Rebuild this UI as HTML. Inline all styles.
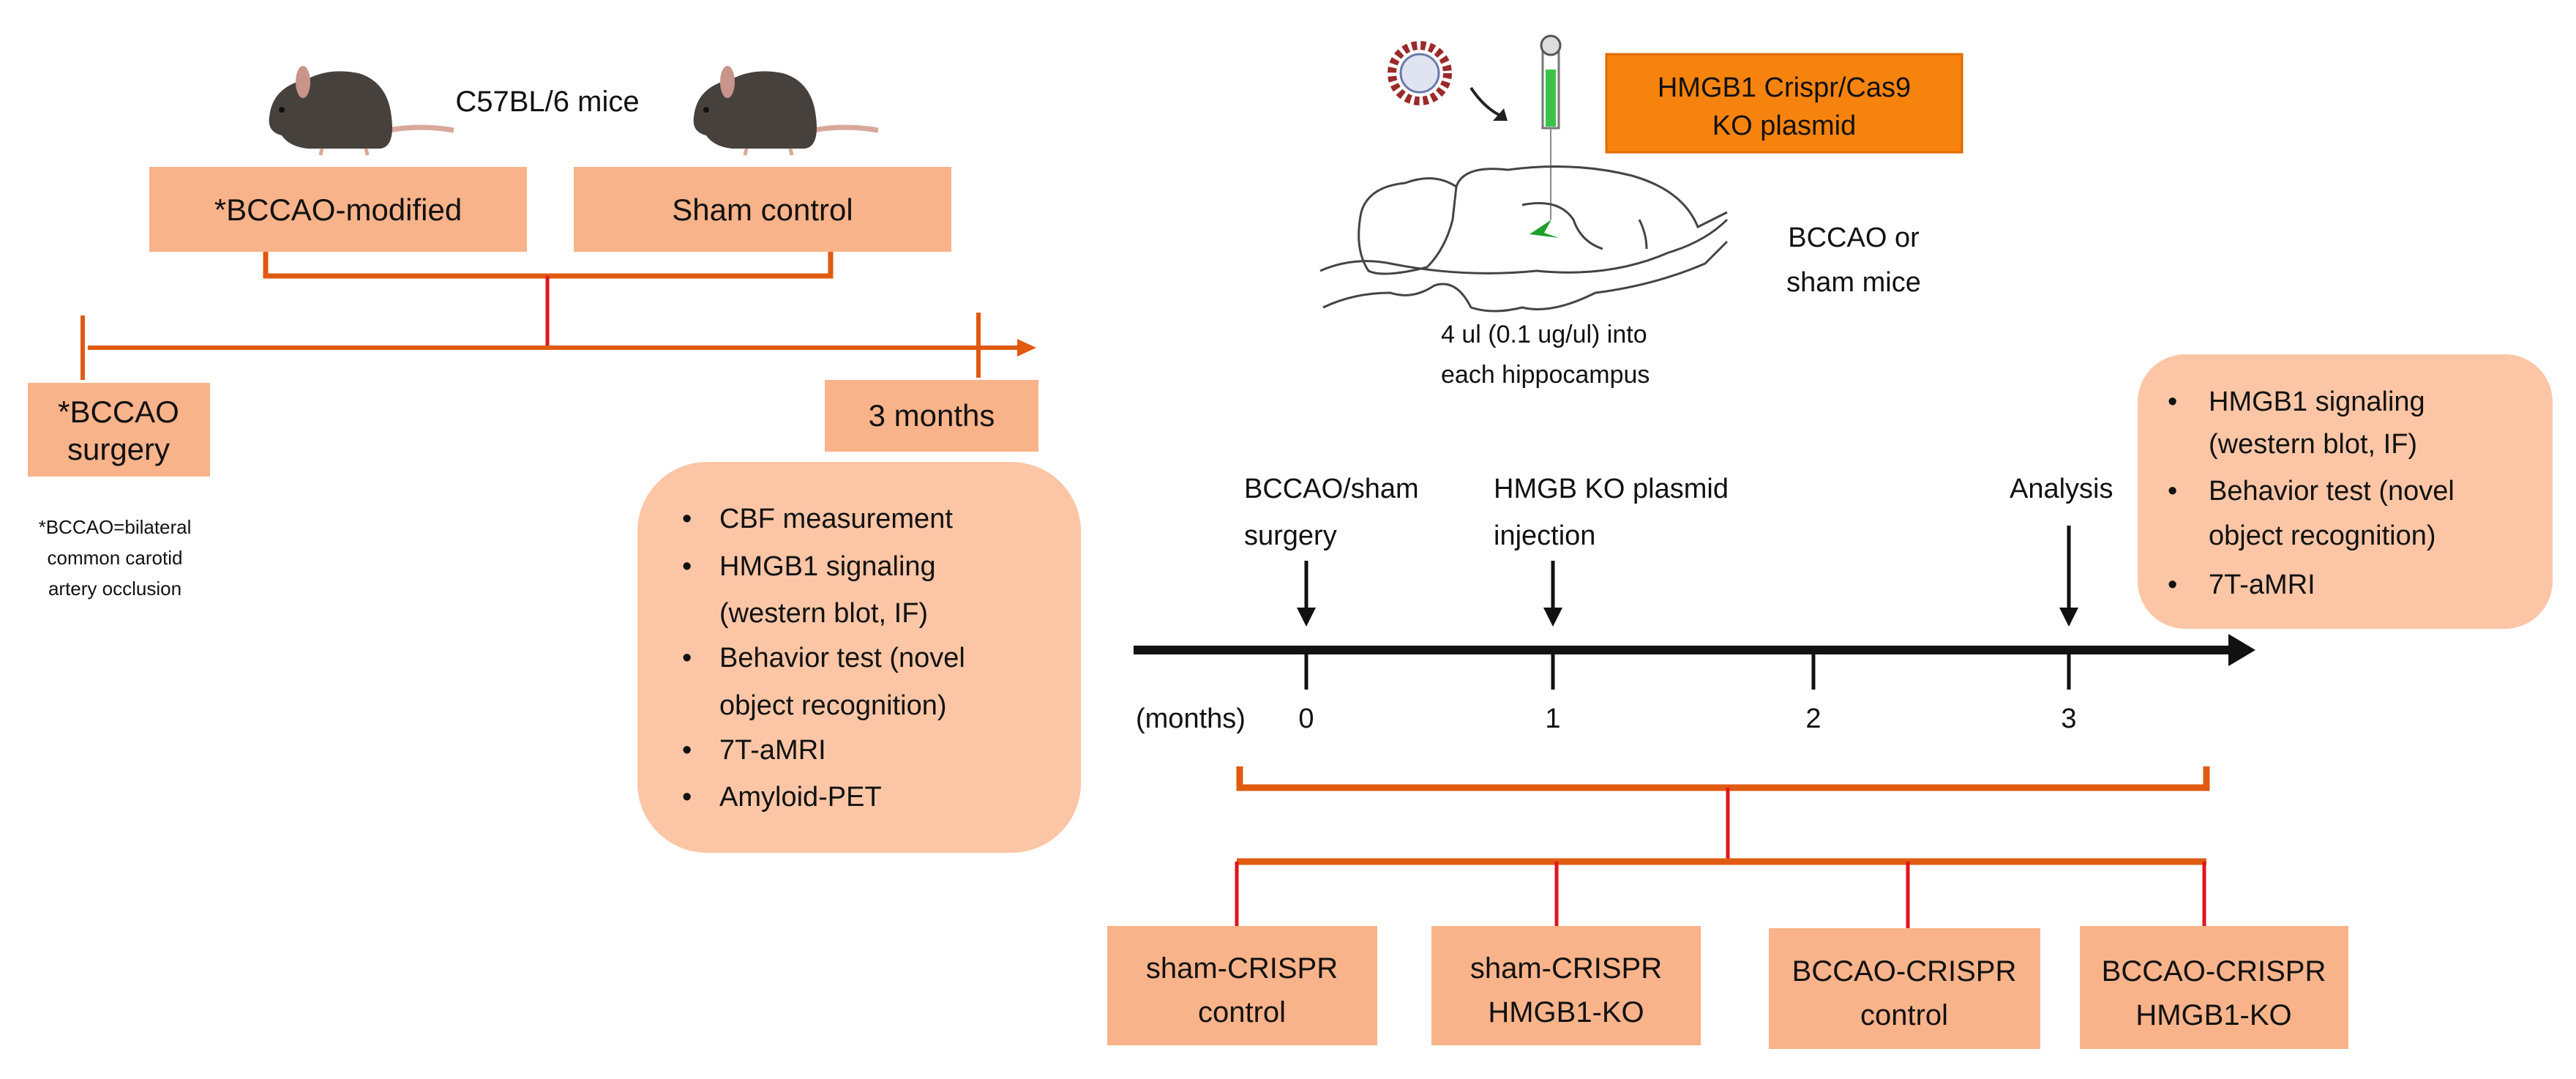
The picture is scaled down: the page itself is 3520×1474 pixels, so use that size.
<!DOCTYPE html>
<html><head><meta charset="utf-8"><style>
html,body{margin:0;padding:0;background:#fff}
svg{display:block}
text{font-family:"Liberation Sans",sans-serif;fill:#111}
</style></head><body>
<svg width="3520" height="1474" viewBox="0 0 3520 1474" xmlns="http://www.w3.org/2000/svg">
<defs>
<g id="mouse">
 <path d="M530 178 Q575 170 620 178" stroke="#d9a89a" stroke-width="7" fill="none"/>
 <path d="M368 160 Q372 118 420 108 Q450 92 490 100 Q530 112 535 160 Q540 200 520 203 L420 203 Q395 200 385 185 Q365 180 368 160 Z" fill="#47413d"/>
 <ellipse cx="414" cy="112" rx="10" ry="22" fill="#c9958a"/>
 <circle cx="385" cy="150" r="4" fill="#111"/>
 <path d="M440 203 L438 212 M500 203 L502 212" stroke="#d9a89a" stroke-width="5"/>
</g>
</defs>
<use href="#mouse"/>
<use href="#mouse" transform="translate(580,0)"/>
<text x="748" y="152" font-size="40" text-anchor="middle">C57BL/6 mice</text>

<rect x="204" y="228" width="516" height="116" fill="#f9b38a"/>
<text x="462" y="301" font-size="42" text-anchor="middle">*BCCAO-modified</text>
<rect x="784" y="228" width="516" height="116" fill="#f9b38a"/>
<text x="1042" y="301" font-size="42" text-anchor="middle">Sham control</text>

<path d="M363 344 V377 H1135 V344" stroke="#e05a10" stroke-width="7" fill="none"/>
<line x1="748" y1="377" x2="748" y2="473" stroke="#e0141e" stroke-width="5"/>
<line x1="120" y1="475" x2="1395" y2="475" stroke="#e05a10" stroke-width="6"/>
<polygon points="1390,463 1416,475 1390,487" fill="#e05a10"/>
<line x1="113" y1="431" x2="113" y2="519" stroke="#e05a10" stroke-width="6"/>
<line x1="1337" y1="427" x2="1337" y2="516" stroke="#e05a10" stroke-width="6"/>

<rect x="38" y="523" width="249" height="128" fill="#f9b38a"/>
<text x="162" y="577" font-size="42" text-anchor="middle">*BCCAO</text>
<text x="162" y="628" font-size="42" text-anchor="middle">surgery</text>
<rect x="1127" y="519" width="292" height="98" fill="#f9b38a"/>
<text x="1273" y="582" font-size="42" text-anchor="middle">3 months</text>

<g font-size="26" text-anchor="middle">
<text x="157" y="729">*BCCAO=bilateral</text>
<text x="157" y="771">common carotid</text>
<text x="157" y="813">artery occlusion</text>
</g>

<rect x="871" y="631" width="606" height="534" rx="95" fill="#fcc6a6"/>
<g font-size="38">
<text x="932" y="721">•</text><text x="983" y="721">CBF measurement</text>
<text x="932" y="786">•</text><text x="983" y="786">HMGB1 signaling</text>
<text x="983" y="850">(western blot, IF)</text>
<text x="932" y="911">•</text><text x="983" y="911">Behavior test (novel</text>
<text x="983" y="976">object recognition)</text>
<text x="932" y="1037">•</text><text x="983" y="1037">7T-aMRI</text>
<text x="932" y="1101">•</text><text x="983" y="1101">Amyloid-PET</text>
</g>

<!-- virus -->
<circle cx="1940" cy="100" r="38" fill="none" stroke="#9b2a2a" stroke-width="12" stroke-dasharray="7 5"/>
<circle cx="1940" cy="100" r="26" fill="#dfe4f0" stroke="#6a7aa8" stroke-width="3"/>
<path d="M2010 120 Q2030 150 2055 160" stroke="#222" stroke-width="4" fill="none"/>
<polygon points="2060,165 2040,165 2055,148" fill="#222"/>
<!-- syringe -->
<rect x="2108" y="65" width="22" height="110" fill="#fff" stroke="#777" stroke-width="3"/>
<rect x="2112" y="95" width="14" height="78" fill="#3cc24a"/>
<circle cx="2119" cy="62" r="13" fill="#ddd" stroke="#555" stroke-width="3"/>
<line x1="2119" y1="175" x2="2119" y2="300" stroke="#888" stroke-width="2"/>
<rect x="2195" y="74" width="486" height="134" fill="#f7830f" stroke="#e06a00" stroke-width="3"/>
<text x="2438" y="132" font-size="38" text-anchor="middle">HMGB1 Crispr/Cas9</text>
<text x="2438" y="184" font-size="38" text-anchor="middle">KO plasmid</text>
<!-- brain -->
<g fill="none" stroke="#444" stroke-width="3">
<path d="M1990 255 Q2000 225 2060 232 Q2150 220 2230 240 Q2300 260 2320 310 L2360 290"/>
<path d="M1990 255 Q1960 235 1920 250 Q1870 255 1860 290 Q1850 340 1870 370 Q1890 380 1950 365 Q1975 340 1985 300 Z"/>
<path d="M1804 370 Q1850 350 1900 360 Q2000 380 2100 370 Q2200 380 2280 345 Q2330 330 2360 300"/>
<path d="M1808 420 Q1850 400 1900 400 Q1930 410 1960 390 Q1990 380 2010 420 Q2040 430 2080 420 Q2120 430 2180 400 Q2260 390 2330 360 Q2350 340 2360 330"/>
<path d="M2080 280 Q2130 270 2150 300 Q2160 330 2190 340"/>
<path d="M2240 300 Q2250 320 2250 340"/>
</g>
<path d="M2090 320 L2120 300 L2110 318 L2130 325 Z" fill="#1ca02c"/>
<text x="2533" y="337" font-size="38" text-anchor="middle">BCCAO or</text>
<text x="2533" y="398" font-size="38" text-anchor="middle">sham mice</text>
<text x="1969" y="468" font-size="34">4 ul (0.1 ug/ul) into</text>
<text x="1969" y="523" font-size="34">each hippocampus</text>

<rect x="2921" y="484" width="567" height="375" rx="65" fill="#fcc6a6"/>
<g font-size="38">
<text x="2962" y="561">•</text><text x="3018" y="561">HMGB1 signaling</text>
<text x="3018" y="619">(western blot, IF)</text>
<text x="2962" y="683">•</text><text x="3018" y="683">Behavior test (novel</text>
<text x="3018" y="744">object recognition)</text>
<text x="2962" y="811">•</text><text x="3018" y="811">7T-aMRI</text>
</g>

<g font-size="38">
<text x="1700" y="680">BCCAO/sham</text>
<text x="1700" y="744">surgery</text>
<text x="2041" y="680">HMGB KO plasmid</text>
<text x="2041" y="744">injection</text>
<text x="2746" y="680">Analysis</text>
</g>
<g stroke="#111" stroke-width="5">
<line x1="1785" y1="766" x2="1785" y2="835"/>
<line x1="2122" y1="766" x2="2122" y2="835"/>
<line x1="2827" y1="718" x2="2827" y2="835"/>
</g>
<g fill="#111">
<polygon points="1772,830 1798,830 1785,856"/>
<polygon points="2109,830 2135,830 2122,856"/>
<polygon points="2814,830 2840,830 2827,856"/>
</g>
<line x1="1549" y1="888" x2="3050" y2="888" stroke="#111" stroke-width="12"/>
<polygon points="3045,866 3082,888 3045,910" fill="#111"/>
<g stroke="#111" stroke-width="5">
<line x1="1785" y1="888" x2="1785" y2="942"/>
<line x1="2122" y1="888" x2="2122" y2="942"/>
<line x1="2478" y1="888" x2="2478" y2="942"/>
<line x1="2827" y1="888" x2="2827" y2="942"/>
</g>
<g font-size="38">
<text x="1552" y="994">(months)</text>
<text x="1785" y="994" text-anchor="middle">0</text>
<text x="2122" y="994" text-anchor="middle">1</text>
<text x="2478" y="994" text-anchor="middle">2</text>
<text x="2827" y="994" text-anchor="middle">3</text>
</g>

<path d="M1694 1047 V1076 H3015 V1047" stroke="#e05a10" stroke-width="9" fill="none"/>
<line x1="2361" y1="1076" x2="2361" y2="1177" stroke="#e0141e" stroke-width="5"/>
<line x1="1690" y1="1177" x2="3015" y2="1177" stroke="#e05a10" stroke-width="9"/>
<g stroke="#e0141e" stroke-width="5">
<line x1="1690" y1="1177" x2="1690" y2="1265"/>
<line x1="2127" y1="1177" x2="2127" y2="1265"/>
<line x1="2607" y1="1177" x2="2607" y2="1270"/>
<line x1="3012" y1="1177" x2="3012" y2="1265"/>
</g>
<g fill="#f9b38a">
<rect x="1513" y="1265" width="369" height="163"/>
<rect x="1956" y="1265" width="368" height="163"/>
<rect x="2417" y="1268" width="371" height="165"/>
<rect x="2842" y="1265" width="367" height="168"/>
</g>
<g font-size="40" text-anchor="middle">
<text x="1697" y="1336">sham-CRISPR</text><text x="1697" y="1396">control</text>
<text x="2140" y="1336">sham-CRISPR</text><text x="2140" y="1396">HMGB1-KO</text>
<text x="2602" y="1340">BCCAO-CRISPR</text><text x="2602" y="1400">control</text>
<text x="3025" y="1340">BCCAO-CRISPR</text><text x="3025" y="1400">HMGB1-KO</text>
</g>
</svg>
</body></html>
